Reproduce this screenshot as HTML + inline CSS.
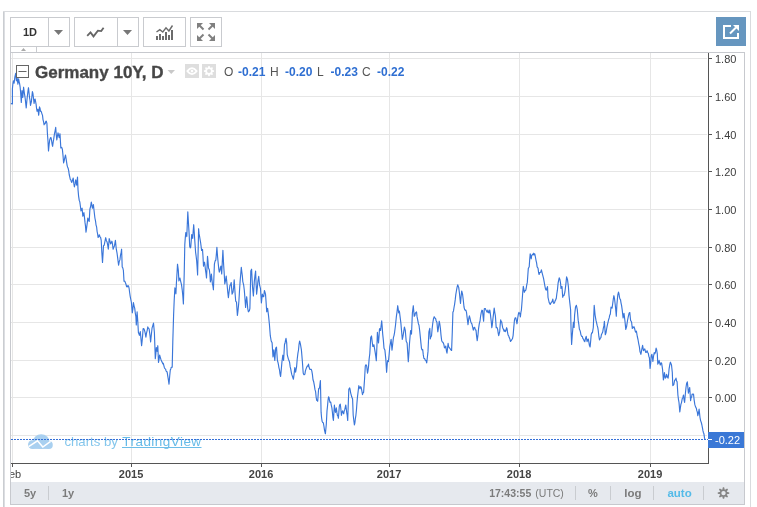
<!DOCTYPE html>
<html><head><meta charset="utf-8">
<style>
html,body{margin:0;padding:0;background:#fff;}
body{width:757px;height:507px;overflow:hidden;position:relative;font-family:'Liberation Sans', Arial, sans-serif;}
svg{position:absolute;left:0;top:0;}
text{font-family:'Liberation Sans', Arial, sans-serif;}
</style></head><body>
<svg width="757" height="507" viewBox="0 0 757 507">
<defs><clipPath id="paneclip"><rect x="11" y="53" width="733" height="429"/></clipPath></defs>
<!-- outer frame -->
<rect x="3" y="11" width="1" height="496" fill="#cacdd1"/>
<rect x="4" y="11" width="1" height="496" fill="#dcdee2"/>
<rect x="3" y="11" width="748" height="1" fill="#d9dbde"/>
<rect x="750" y="11" width="1" height="496" fill="#d9dbde"/>

<!-- toolbar buttons -->
<g fill="#fff" stroke="#c9cbcf" stroke-width="1" shape-rendering="crispEdges">
<rect x="10.5" y="17.5" width="59" height="29"/>
<line x1="48.5" y1="17.5" x2="48.5" y2="46.5"/>
<rect x="74.5" y="17.5" width="64" height="29"/>
<line x1="117.5" y1="17.5" x2="117.5" y2="46.5"/>
<rect x="143.5" y="17.5" width="42" height="29"/>
<rect x="190.5" y="17.5" width="31" height="29"/>
<rect x="10.5" y="46.5" width="26" height="6"/>
</g>
<text x="23" y="36" font-size="11" font-weight="bold" fill="#333">1D</text>
<path d="M54,30 L63,30 L58.5,35 Z" fill="#777"/>
<path d="M123,30 L132,30 L127.5,35 Z" fill="#777"/>
<path d="M21,51 L26,51 L23.5,48 Z" fill="#aaa"/>
<!-- line-style icon -->
<polyline points="87.2,35.9 90.5,32.4 93.5,36.4 97.9,30.7 101.2,31.1 103.6,27.7" fill="none" stroke="#666" stroke-width="1.8" stroke-linejoin="miter"/>
<!-- indicators icon -->
<g fill="#6b6b6b">
<rect x="156" y="36" width="2" height="4"/>
<rect x="159" y="34" width="2" height="6"/>
<rect x="162" y="36" width="2" height="4"/>
<rect x="165" y="32" width="2" height="8"/>
<rect x="168" y="35" width="2" height="5"/>
<rect x="171" y="30" width="2" height="10"/>
</g>
<polyline points="156.5,32 159.8,29.6 162.8,32 166,27.8 168.9,31 172.5,25.5" fill="none" stroke="#6b6b6b" stroke-width="1.4"/>
<!-- fullscreen icon -->
<g fill="#808080" stroke="#808080" stroke-width="2">
<path d="M197,23 L203,23 L197,29 Z" stroke="none"/>
<line x1="199" y1="25" x2="203.5" y2="29.5"/>
<path d="M215,23 L209,23 L215,29 Z" stroke="none"/>
<line x1="213" y1="25" x2="208.5" y2="29.5"/>
<path d="M197,41 L203,41 L197,35 Z" stroke="none"/>
<line x1="199" y1="39" x2="203.5" y2="34.5"/>
<path d="M215,41 L209,41 L215,35 Z" stroke="none"/>
<line x1="213" y1="39" x2="208.5" y2="34.5"/>
</g>
<!-- popout blue button -->
<rect x="716" y="17" width="30" height="29" fill="#6696bf"/>
<path d="M731,26 L724,26 L724,38 L738,38 L738,33" fill="none" stroke="#fff" stroke-width="2"/>
<line x1="730" y1="33.5" x2="736" y2="27.5" stroke="#fff" stroke-width="2"/>
<path d="M733,25 L739,25 L739,31 Z" fill="#fff"/>

<!-- chart pane -->
<g shape-rendering="crispEdges">
<line x1="10.5" y1="52.5" x2="744.5" y2="52.5" stroke="#c7c9ce"/>
<line x1="10.5" y1="46.5" x2="10.5" y2="504.5" stroke="#c7c9ce"/>
<line x1="744.5" y1="52.5" x2="744.5" y2="504.5" stroke="#c7c9ce"/>
<g stroke="#e6e6e6"><line x1="11" x2="707" y1="435.5" y2="435.5"/><line x1="11" x2="707" y1="397.5" y2="397.5"/><line x1="11" x2="707" y1="360.5" y2="360.5"/><line x1="11" x2="707" y1="322.5" y2="322.5"/><line x1="11" x2="707" y1="284.5" y2="284.5"/><line x1="11" x2="707" y1="247.5" y2="247.5"/><line x1="11" x2="707" y1="209.5" y2="209.5"/><line x1="11" x2="707" y1="171.5" y2="171.5"/><line x1="11" x2="707" y1="134.5" y2="134.5"/><line x1="11" x2="707" y1="96.5" y2="96.5"/><line x1="11" x2="707" y1="58.5" y2="58.5"/><line x1="12.5" x2="12.5" y1="53" y2="463"/><line x1="131.5" x2="131.5" y1="53" y2="463"/><line x1="261.5" x2="261.5" y1="53" y2="463"/><line x1="389.5" x2="389.5" y1="53" y2="463"/><line x1="519.5" x2="519.5" y1="53" y2="463"/><line x1="650.5" x2="650.5" y1="53" y2="463"/></g>
</g>
<!-- bottom toolbar -->
<rect x="11" y="482" width="733" height="22" fill="#e6e9ee"/>
<line x1="10.5" y1="504.5" x2="744.5" y2="504.5" stroke="#c7c9ce" shape-rendering="crispEdges"/>

<!-- axes -->
<g stroke="#555" shape-rendering="crispEdges">
<line x1="11" y1="463.5" x2="709" y2="463.5"/>
<line x1="708.5" y1="53" x2="708.5" y2="464"/>
<line x1="12.5" x2="12.5" y1="463" y2="467"/><line x1="131.5" x2="131.5" y1="463" y2="467"/><line x1="261.5" x2="261.5" y1="463" y2="467"/><line x1="389.5" x2="389.5" y1="463" y2="467"/><line x1="519.5" x2="519.5" y1="463" y2="467"/><line x1="650.5" x2="650.5" y1="463" y2="467"/><line x1="708" x2="712" y1="397.5" y2="397.5"/><line x1="708" x2="712" y1="360.5" y2="360.5"/><line x1="708" x2="712" y1="322.5" y2="322.5"/><line x1="708" x2="712" y1="284.5" y2="284.5"/><line x1="708" x2="712" y1="247.5" y2="247.5"/><line x1="708" x2="712" y1="209.5" y2="209.5"/><line x1="708" x2="712" y1="171.5" y2="171.5"/><line x1="708" x2="712" y1="134.5" y2="134.5"/><line x1="708" x2="712" y1="96.5" y2="96.5"/><line x1="708" x2="712" y1="58.5" y2="58.5"/>
</g>
<g font-size="11" font-weight="bold" fill="#444"><text x="131.1" y="477.7" text-anchor="middle">2015</text><text x="261.1" y="477.7" text-anchor="middle">2016</text><text x="389.1" y="477.7" text-anchor="middle">2017</text><text x="519.1" y="477.7" text-anchor="middle">2018</text><text x="650.1" y="477.7" text-anchor="middle">2019</text>
</g>
<g clip-path="url(#paneclip)"><text x="21.2" y="477.7" font-size="11" fill="#444" text-anchor="end">Feb</text></g>
<g font-size="11" fill="#3c3c3c"><text x="715" y="402.0">0.00</text><text x="715" y="365.0">0.20</text><text x="715" y="327.0">0.40</text><text x="715" y="289.0">0.60</text><text x="715" y="252.0">0.80</text><text x="715" y="214.0">1.00</text><text x="715" y="176.0">1.20</text><text x="715" y="139.0">1.40</text><text x="715" y="101.0">1.60</text><text x="715" y="63.0">1.80</text></g>

<!-- watermark -->
<g>
<g fill="#a9d0f0">
<ellipse cx="41.2" cy="441.6" rx="8.3" ry="7.3"/>
<circle cx="32.3" cy="444.6" r="4.3"/>
<circle cx="48.9" cy="445.0" r="3.9"/>
<rect x="32.3" y="444" width="16.6" height="4.9"/>
</g>
<polyline points="28.6,446.6 37.5,440.8 42.8,447 50.6,441.4" fill="none" stroke="#fff" stroke-width="1.5"/>
<text x="64.4" y="446" font-size="13.2" fill="#84c6ec">charts by</text>
<text x="122.3" y="446" font-size="13.5" fill="#66bbe8" textLength="78.8" lengthAdjust="spacing">TradingView</text>
<rect x="122" y="447" width="79.5" height="1" fill="#6cbde8"/>
</g>

<!-- price line -->
<path d="M11.0,104.0 L11.7,103.5 L12.4,104.0 L12.4,88.7 L12.9,83.8 L13.4,80.8 L14.1,83.2 L14.9,76.8 L15.7,73.4 L16.4,80.8 L17.1,77.8 L17.9,84.2 L18.6,78.8 L19.1,81.6 L19.6,83.7 L20.1,86.8 L20.6,92.1 L21.3,102.5 L22.0,90.6 L22.8,97.5 L23.6,87.2 L24.3,92.6 L25.2,98.5 L25.7,103.3 L26.2,107.9 L26.7,102.4 L27.2,97.5 L27.9,91.5 L28.5,87.7 L29.0,92.6 L29.5,97.5 L30.0,100.2 L30.5,105.4 L31.4,101.5 L31.9,96.4 L32.4,91.6 L32.9,93.4 L33.4,97.5 L34.1,103.4 L34.6,100.1 L35.1,99.0 L35.6,101.5 L36.1,104.4 L36.6,108.7 L37.1,111.3 L38.0,109.3 L38.7,115.3 L39.5,106.9 L40.0,108.1 L40.5,111.3 L41.0,111.1 L41.5,112.3 L42.0,114.1 L42.5,115.3 L43.0,119.6 L43.6,121.8 L44.1,124.8 L44.7,123.4 L45.2,123.7 L45.8,121.3 L46.3,121.2 L46.9,123.4 L47.4,133.5 L48.0,141.3 L48.5,151.0 L49.1,144.6 L49.7,140.0 L50.4,137.8 L51.0,137.6 L51.5,140.0 L52.1,144.2 L52.6,146.3 L53.2,141.9 L53.7,139.2 L54.5,133.7 L55.1,130.8 L55.7,127.4 L56.2,134.1 L56.8,140.0 L57.4,136.1 L58.0,132.9 L58.6,135.4 L59.2,137.6 L60.0,133.7 L60.8,147.9 L61.3,147.3 L61.9,147.8 L62.4,149.5 L63.0,155.4 L63.6,162.9 L64.2,160.7 L64.9,157.4 L65.5,155.0 L66.0,158.0 L66.6,162.1 L67.1,165.3 L67.6,167.0 L68.2,168.4 L68.7,170.8 L69.2,174.5 L69.8,177.1 L70.3,179.5 L70.8,179.8 L71.3,181.6 L71.8,182.4 L72.5,180.3 L73.2,178.0 L73.8,183.4 L74.4,186.9 L75.1,183.9 L75.7,179.8 L76.2,181.9 L76.7,185.1 L77.5,177.1 L78.0,189.5 L78.6,196.1 L79.2,200.2 L79.8,201.9 L80.3,205.5 L81.0,210.9 L81.5,209.3 L82.1,208.2 L82.8,216.2 L83.3,215.1 L83.9,212.6 L84.4,216.6 L85.0,222.4 L85.5,226.1 L86.0,232.2 L86.6,227.9 L87.2,223.4 L87.8,218.0 L88.5,219.9 L89.2,221.5 L89.9,209.1 L90.6,206.5 L91.3,202.0 L91.8,204.6 L92.4,208.2 L92.9,206.9 L93.4,204.6 L93.9,209.3 L94.4,213.7 L94.9,218.0 L95.5,220.8 L96.0,224.8 L96.6,226.8 L97.1,231.5 L97.6,233.9 L98.1,237.5 L98.7,236.6 L99.3,234.8 L100.0,236.8 L100.6,237.4 L101.2,240.3 L101.8,251.9 L102.5,262.5 L103.0,254.5 L103.5,245.7 L104.2,245.2 L104.8,242.1 L105.7,237.7 L106.4,240.7 L107.1,242.1 L107.7,245.1 L108.3,249.2 L109.2,238.6 L109.9,241.0 L110.6,243.9 L111.2,243.0 L111.9,241.2 L112.5,244.0 L113.1,249.2 L113.8,247.4 L114.5,245.7 L115.4,240.3 L116.3,249.2 L117.0,252.8 L117.7,258.1 L118.6,265.2 L119.2,261.6 L119.9,259.9 L120.5,255.2 L121.0,253.5 L121.6,249.2 L122.2,267.0 L122.8,267.8 L123.4,270.5 L124.0,281.2 L124.6,281.0 L125.2,282.1 L125.9,284.0 L126.6,286.5 L127.2,287.0 L127.9,285.6 L128.5,285.9 L129.1,288.3 L129.6,292.2 L130.2,296.3 L130.8,299.5 L131.4,302.5 L132.3,312.8 L132.9,308.6 L133.4,302.5 L134.1,306.1 L134.7,308.1 L135.3,313.3 L135.9,316.7 L136.3,325.0 L137.1,311.9 L137.8,321.6 L138.4,332.5 L138.9,333.7 L139.4,335.3 L140.3,331.6 L140.9,338.3 L141.6,345.7 L142.1,341.1 L142.6,335.6 L143.1,328.8 L143.6,328.5 L144.1,329.2 L144.6,330.6 L145.2,333.2 L145.9,337.2 L146.5,333.1 L147.2,330.3 L147.8,326.9 L148.4,328.1 L149.1,328.8 L149.6,332.5 L150.1,336.2 L150.6,341.9 L151.1,337.0 L151.6,332.2 L152.1,327.8 L152.8,325.6 L153.5,323.1 L154.4,332.5 L155.3,358.8 L155.8,354.3 L156.3,347.5 L157.2,351.3 L157.8,345.7 L158.5,362.5 L159.1,359.2 L159.6,355.0 L160.3,357.4 L161.0,359.7 L161.7,361.4 L162.3,362.5 L162.8,363.9 L163.3,363.3 L163.8,365.4 L164.4,367.7 L165.0,368.6 L165.6,369.1 L166.1,371.0 L166.6,371.7 L167.1,371.9 L167.7,375.7 L168.4,379.8 L169.0,384.1 L169.7,376.0 L170.3,370.0 L170.8,368.9 L171.3,367.2 L172.2,367.2 L172.8,341.9 L173.6,315.0 L174.2,300.3 L174.9,287.8 L175.4,289.7 L175.9,293.8 L176.4,283.2 L177.0,273.2 L177.5,264.2 L178.3,270.1 L178.9,280.9 L179.4,279.0 L179.9,278.0 L180.8,281.9 L181.5,284.7 L182.2,289.8 L182.8,295.6 L183.4,304.0 L184.2,274.0 L184.8,244.4 L185.3,237.6 L185.8,232.6 L186.3,233.6 L186.8,236.6 L187.3,223.9 L187.8,211.9 L188.7,226.7 L189.2,235.3 L189.7,246.4 L190.2,247.9 L190.7,247.4 L191.2,241.3 L191.7,234.6 L192.2,235.6 L192.7,238.5 L193.2,231.0 L193.7,224.7 L194.2,231.7 L194.7,239.5 L195.6,252.3 L196.1,255.9 L196.6,260.2 L197.1,266.6 L197.6,275.0 L198.1,252.8 L198.6,228.7 L199.1,233.9 L199.6,236.6 L200.1,239.5 L200.6,242.5 L201.1,246.4 L201.6,250.4 L202.5,249.4 L203.0,256.7 L203.5,266.1 L204.0,263.1 L204.5,262.2 L205.0,265.7 L205.5,270.1 L206.0,273.4 L206.5,278.0 L207.0,268.0 L207.5,256.3 L208.0,261.3 L208.5,268.1 L209.4,270.1 L209.9,274.8 L210.4,281.9 L210.9,279.1 L211.4,274.0 L211.9,279.0 L212.4,283.9 L212.9,285.9 L213.4,289.8 L213.9,277.1 L214.4,264.2 L215.1,261.0 L215.8,260.2 L216.4,253.9 L216.9,247.4 L217.6,257.0 L218.3,264.2 L218.8,269.1 L219.3,272.1 L219.8,270.6 L220.4,267.5 L220.9,266.1 L221.7,274.0 L222.3,261.9 L222.9,250.4 L223.6,264.2 L224.2,273.2 L224.8,283.9 L225.5,280.7 L226.2,276.0 L226.7,281.0 L227.2,285.9 L227.8,292.5 L228.4,297.7 L228.9,293.1 L229.5,288.6 L230.0,285.2 L230.6,284.7 L231.2,282.5 L232.1,294.1 L233.0,292.3 L233.6,287.4 L234.2,279.9 L234.7,287.9 L235.2,294.9 L235.7,301.2 L236.5,302.1 L237.4,315.4 L237.9,311.5 L238.4,306.6 L238.9,301.2 L239.5,290.7 L240.1,281.6 L240.7,274.5 L241.3,267.4 L241.8,271.8 L242.3,275.6 L242.8,281.6 L243.7,285.2 L244.3,290.2 L244.9,297.6 L245.6,307.4 L246.1,301.5 L246.7,296.7 L247.2,301.9 L247.7,308.3 L248.4,311.8 L248.9,311.1 L249.4,310.7 L249.9,308.3 L250.8,271.0 L251.6,269.2 L252.5,287.0 L253.4,295.9 L254.3,281.6 L254.9,276.2 L255.6,271.0 L256.1,283.7 L256.6,294.1 L257.2,289.1 L257.9,281.6 L258.7,276.3 L259.6,285.2 L260.5,288.7 L261.4,303.0 L262.3,294.1 L263.0,296.6 L263.7,296.7 L264.4,290.5 L264.9,291.9 L265.5,294.1 L266.1,302.2 L266.7,311.8 L267.6,308.3 L268.5,315.4 L269.4,324.3 L270.3,335.7 L271.2,341.0 L272.1,342.8 L273.0,357.0 L273.9,349.9 L274.8,360.5 L275.7,348.1 L276.5,347.2 L277.4,360.5 L277.9,362.2 L278.4,364.4 L278.9,367.6 L279.5,369.8 L280.0,373.9 L280.6,376.5 L281.2,370.4 L281.9,362.3 L282.8,355.2 L283.6,360.5 L284.5,344.5 L285.0,343.3 L285.5,340.3 L286.0,338.3 L286.7,342.8 L287.2,354.3 L287.8,356.8 L288.4,359.2 L289.0,360.5 L289.6,362.4 L290.2,366.9 L290.8,369.4 L291.4,372.8 L291.9,374.9 L292.5,376.5 L293.4,379.2 L294.1,374.1 L294.8,367.6 L295.6,372.1 L296.1,369.3 L296.6,366.7 L297.2,359.2 L297.9,353.4 L298.5,350.0 L299.0,344.7 L299.6,341.0 L300.5,344.5 L301.4,349.9 L302.3,360.5 L303.2,373.0 L303.8,374.6 L304.4,374.7 L304.9,374.2 L305.4,370.9 L305.9,369.4 L306.6,367.4 L307.3,365.9 L307.9,366.2 L308.5,364.1 L309.1,367.3 L309.8,369.4 L310.7,369.4 L311.2,369.3 L311.8,370.9 L312.4,374.4 L313.0,379.8 L313.7,381.8 L314.4,385.7 L315.0,389.7 L315.6,391.6 L316.1,396.8 L316.7,400.5 L317.2,400.0 L317.7,401.3 L318.6,388.7 L319.1,388.8 L319.6,387.2 L320.4,380.5 L321.1,412.4 L321.6,418.0 L322.1,421.2 L322.7,422.4 L323.3,422.7 L323.9,426.0 L324.5,430.1 L325.4,433.8 L326.3,424.2 L327.0,410.9 L327.5,406.3 L328.0,400.5 L328.5,396.8 L329.0,397.4 L329.5,400.5 L330.1,402.5 L330.7,402.0 L331.3,405.3 L331.9,407.9 L332.4,412.2 L332.9,417.4 L333.4,420.5 L333.9,412.6 L334.4,405.0 L334.9,409.7 L335.5,412.4 L336.3,407.9 L336.9,412.4 L337.4,415.3 L337.9,416.0 L338.4,418.3 L339.3,406.4 L339.8,404.7 L340.3,404.2 L340.9,409.2 L341.4,415.3 L342.0,412.4 L342.6,410.9 L343.1,412.6 L343.7,413.8 L344.2,411.0 L344.8,409.4 L345.3,407.0 L345.8,405.0 L346.7,412.4 L347.2,415.5 L347.7,420.5 L348.2,406.0 L348.8,389.4 L349.7,387.9 L350.2,390.1 L350.7,393.1 L351.2,394.8 L351.7,396.8 L352.6,399.0 L353.2,415.3 L353.8,420.3 L354.4,424.9 L354.9,422.8 L355.4,418.3 L355.9,415.3 L356.4,410.5 L356.9,403.5 L357.4,397.6 L358.1,391.7 L358.8,385.7 L359.4,387.3 L360.0,388.7 L360.6,386.7 L361.1,387.2 L361.8,390.7 L362.5,394.6 L363.1,392.7 L363.6,392.4 L364.5,380.0 L365.3,366.0 L366.0,364.7 L366.7,366.0 L367.5,373.2 L368.0,370.8 L368.5,366.9 L369.1,359.4 L369.8,353.6 L370.7,337.6 L371.5,335.9 L372.1,341.1 L372.8,346.5 L373.4,346.2 L373.9,344.7 L374.5,348.4 L375.1,351.8 L375.7,355.8 L376.3,360.7 L376.9,346.5 L377.4,332.3 L377.9,337.8 L378.5,343.0 L379.0,336.6 L379.5,328.7 L380.1,328.6 L380.6,330.5 L381.1,325.8 L381.7,320.8 L382.2,326.8 L382.7,334.1 L383.4,340.6 L384.0,348.3 L384.9,350.1 L385.8,358.9 L386.6,372.3 L387.5,360.7 L388.4,361.6 L389.1,354.8 L389.8,346.5 L390.5,343.0 L391.1,339.4 L392.0,350.1 L392.7,344.0 L393.4,337.6 L394.0,335.6 L394.6,332.3 L395.5,325.2 L396.4,316.3 L397.0,312.1 L397.7,305.7 L398.2,309.1 L398.7,312.8 L399.4,311.0 L399.9,315.4 L400.4,319.3 L400.9,323.4 L401.6,331.4 L402.3,339.4 L402.9,336.8 L403.5,333.2 L404.4,327.0 L405.3,330.5 L406.2,341.2 L407.1,343.0 L407.7,352.2 L408.3,361.6 L408.9,353.2 L409.4,344.7 L410.0,337.5 L410.6,330.5 L411.5,334.1 L412.4,312.8 L413.3,305.7 L414.2,316.3 L414.8,315.7 L415.4,312.8 L415.9,312.9 L416.5,311.9 L417.1,316.9 L417.7,319.9 L418.4,323.7 L419.0,325.2 L419.7,330.8 L420.4,337.6 L420.9,342.9 L421.4,347.8 L422.0,349.9 L422.7,349.6 L423.3,354.9 L423.9,358.5 L424.6,358.5 L425.3,360.3 L426.0,360.6 L426.7,362.9 L427.4,357.0 L428.0,351.4 L428.9,331.8 L429.8,328.3 L430.3,338.9 L430.9,336.5 L431.5,336.3 L432.1,329.0 L432.8,323.0 L433.5,318.7 L434.2,316.7 L434.9,318.0 L435.6,318.5 L436.2,321.0 L436.9,322.1 L437.8,331.8 L438.5,327.5 L439.2,321.2 L439.8,323.9 L440.4,328.3 L441.0,335.1 L441.7,340.7 L442.4,342.0 L443.1,342.5 L443.8,344.2 L444.5,347.8 L445.1,347.9 L445.8,346.0 L446.4,350.8 L447.0,353.2 L447.6,347.6 L448.1,343.4 L448.7,346.8 L449.3,347.8 L450.0,348.4 L450.6,349.6 L451.1,350.0 L451.6,350.5 L452.3,331.8 L452.9,312.3 L453.5,310.9 L454.1,307.0 L454.6,304.3 L455.2,299.9 L455.8,294.6 L456.4,291.0 L457.0,287.7 L457.7,284.8 L458.2,286.1 L458.7,287.4 L459.4,292.8 L459.9,297.7 L460.5,303.4 L461.1,296.4 L461.7,291.0 L462.6,294.5 L463.3,300.3 L464.0,307.0 L464.6,309.3 L465.3,310.5 L465.9,310.2 L466.5,312.3 L467.0,316.6 L467.5,320.4 L468.0,324.7 L468.7,319.0 L469.4,315.9 L470.0,318.1 L470.6,321.2 L471.2,322.8 L471.9,323.8 L472.6,327.0 L473.3,330.1 L474.0,327.6 L474.7,327.4 L475.4,330.0 L476.0,330.1 L476.6,336.1 L477.2,340.7 L477.9,335.7 L478.6,328.3 L479.3,323.7 L480.0,321.2 L480.6,316.1 L481.3,312.3 L481.9,310.2 L482.5,310.5 L483.1,316.6 L483.6,321.2 L484.3,308.7 L484.8,308.5 L485.4,308.6 L485.9,310.0 L486.4,310.8 L486.9,312.0 L487.4,312.1 L487.9,310.0 L488.4,312.3 L488.9,313.0 L489.8,310.0 L490.3,313.3 L490.8,317.9 L491.3,321.9 L491.8,327.7 L492.3,324.8 L492.8,319.8 L493.5,314.1 L494.2,308.0 L494.8,312.5 L495.4,315.9 L496.2,327.7 L496.7,327.3 L497.2,327.9 L497.7,329.7 L498.2,333.1 L498.7,335.6 L499.2,333.5 L499.7,331.7 L500.2,324.6 L500.7,319.8 L501.2,321.9 L501.7,321.8 L502.2,325.1 L502.7,327.7 L503.6,329.7 L504.1,331.2 L504.7,330.0 L505.2,331.7 L505.9,330.6 L506.6,327.7 L507.1,329.0 L507.6,332.6 L508.1,335.2 L508.7,335.8 L509.2,337.6 L509.9,339.1 L510.5,341.5 L511.2,340.6 L511.9,339.5 L512.5,338.7 L513.1,335.6 L513.8,327.1 L514.5,319.8 L515.1,317.9 L515.8,317.9 L516.4,320.9 L517.0,323.8 L517.7,318.2 L518.4,313.9 L518.9,312.4 L519.4,313.0 L519.9,314.1 L520.4,316.9 L520.9,312.3 L521.4,310.0 L522.3,298.2 L522.8,291.5 L523.3,286.4 L523.8,288.9 L524.3,292.3 L525.0,290.8 L525.7,290.3 L526.2,288.3 L526.8,284.5 L527.3,282.4 L527.8,275.5 L528.3,268.6 L529.2,266.7 L529.7,259.5 L530.2,253.9 L530.7,256.0 L531.2,258.8 L531.7,255.5 L532.2,254.8 L532.7,254.2 L533.2,254.8 L533.7,253.2 L534.3,254.8 L534.8,253.9 L535.5,257.5 L536.1,260.8 L536.6,262.9 L537.1,266.7 L537.6,267.6 L538.1,268.6 L538.6,272.7 L539.1,274.5 L539.6,272.5 L540.1,272.6 L540.8,272.0 L541.4,269.8 L542.0,272.3 L542.7,275.1 L543.6,278.7 L544.3,282.6 L545.0,286.6 L545.6,289.3 L546.2,290.2 L546.9,288.1 L547.5,286.6 L548.0,297.3 L548.6,300.0 L549.2,302.6 L549.7,303.4 L550.2,304.5 L550.7,303.5 L551.4,302.2 L552.1,301.7 L552.8,299.1 L553.3,302.2 L553.9,303.5 L554.5,302.7 L555.1,300.9 L555.7,299.9 L556.3,298.2 L556.8,294.0 L557.4,290.2 L558.1,283.1 L558.7,280.1 L559.2,277.8 L559.9,279.5 L560.5,282.8 L561.0,288.4 L561.5,286.5 L562.0,286.6 L562.7,297.3 L563.4,295.3 L564.0,295.5 L564.9,292.0 L565.8,284.9 L566.6,276.9 L567.5,279.5 L568.4,286.6 L569.0,295.5 L569.8,302.6 L570.6,309.7 L571.1,331.0 L571.6,344.4 L572.3,334.6 L572.8,329.0 L573.4,322.2 L574.1,327.5 L574.6,315.1 L575.5,307.1 L576.4,305.3 L577.3,309.7 L578.2,320.4 L578.8,324.2 L579.4,329.3 L579.9,330.2 L580.4,331.8 L580.9,334.6 L581.6,336.4 L582.3,336.4 L582.9,338.7 L583.5,339.0 L584.1,340.8 L584.8,341.7 L585.5,338.5 L586.2,336.4 L587.1,341.7 L587.7,339.7 L588.3,339.0 L588.8,341.6 L589.4,345.3 L590.1,347.0 L590.7,340.7 L591.2,334.6 L591.8,332.8 L592.4,332.8 L593.3,327.5 L594.2,305.3 L595.1,315.1 L596.0,320.4 L596.6,322.9 L597.2,325.7 L597.8,327.7 L598.3,331.0 L598.9,336.7 L599.5,339.9 L600.4,338.1 L600.9,337.6 L601.4,334.7 L602.0,333.5 L602.7,332.1 L603.3,328.3 L603.9,325.9 L604.4,321.4 L605.3,334.7 L606.0,332.8 L606.7,328.5 L607.4,324.9 L608.0,322.3 L608.6,319.7 L609.2,317.9 L609.8,314.8 L610.3,314.3 L611.0,307.2 L611.5,307.3 L612.1,308.1 L612.8,302.8 L613.3,299.2 L613.9,295.7 L614.6,299.2 L615.1,303.7 L615.6,308.1 L616.3,316.1 L616.9,304.5 L617.8,294.8 L618.5,292.1 L619.0,294.0 L619.5,297.4 L620.0,299.2 L620.5,299.7 L621.0,302.8 L621.6,305.7 L622.2,309.9 L623.1,317.9 L624.0,313.4 L624.9,320.5 L625.8,329.4 L626.6,326.7 L627.5,320.5 L628.4,316.1 L629.1,313.2 L629.8,312.5 L630.6,320.5 L631.1,321.1 L631.6,322.3 L632.3,328.5 L632.8,326.9 L633.4,327.6 L634.0,326.8 L634.6,328.5 L635.5,332.1 L636.4,331.2 L637.3,336.5 L638.0,339.5 L638.7,343.6 L639.4,346.9 L640.0,351.6 L640.9,354.3 L641.7,349.8 L642.6,345.4 L643.5,350.7 L644.1,350.0 L644.8,348.9 L645.3,350.8 L645.8,352.5 L646.5,352.3 L647.1,350.7 L647.7,352.5 L648.3,353.4 L648.8,356.2 L649.4,357.8 L650.1,368.5 L650.7,363.2 L651.2,356.0 L651.9,354.3 L652.4,357.6 L652.9,361.4 L653.5,356.5 L654.2,352.5 L654.8,353.8 L655.4,352.5 L656.1,348.1 L656.7,350.0 L657.3,353.8 L657.8,364.1 L658.5,362.8 L659.1,360.3 L659.7,363.0 L660.3,365.0 L661.0,362.9 L661.6,363.1 L662.5,368.8 L663.4,380.0 L663.9,377.1 L664.4,372.5 L665.3,378.1 L666.0,377.3 L666.6,374.4 L667.1,376.0 L667.6,377.5 L668.1,378.1 L668.6,374.3 L669.1,368.8 L669.8,364.6 L670.4,362.2 L671.0,363.7 L671.5,365.0 L672.3,372.5 L672.8,385.6 L673.3,385.2 L673.8,384.7 L674.7,380.0 L675.4,379.9 L676.0,378.1 L676.5,380.8 L677.1,381.9 L677.9,395.0 L678.5,399.6 L679.0,402.5 L679.8,411.9 L680.3,408.4 L680.9,404.4 L681.5,402.6 L682.2,398.8 L682.9,397.4 L683.5,395.0 L684.0,399.3 L684.6,402.5 L685.3,394.3 L686.0,387.5 L686.6,383.5 L687.3,381.9 L687.8,386.6 L688.4,393.2 L689.0,390.0 L689.7,387.5 L690.6,400.7 L691.1,397.5 L691.6,397.2 L692.1,394.1 L692.8,394.3 L693.5,394.1 L694.1,399.6 L694.8,404.4 L695.3,406.0 L695.8,407.4 L696.3,408.2 L696.8,410.7 L697.3,411.9 L697.8,415.7 L698.5,413.2 L699.1,409.1 L700.0,417.5 L700.6,420.6 L701.3,422.5 L701.9,425.0 L702.4,427.6 L702.9,430.4 L703.4,432.5 L703.9,433.7 L704.5,437.8 L705.0,439.6" fill="none" stroke="#3a76d9" stroke-width="1.15" stroke-linejoin="round"/>
<!-- last price dotted line -->
<line x1="11" y1="439.5" x2="708" y2="439.5" stroke="#3570d8" stroke-width="1" stroke-dasharray="2,1"/>
<rect x="708" y="432" width="36" height="16" fill="#3a78d6"/>
<line x1="708" y1="439.5" x2="712" y2="439.5" stroke="#fff"/>
<text x="715" y="444" font-size="11" fill="#fff">-0.22</text>

<!-- legend -->
<rect x="16.5" y="65.5" width="12" height="12" fill="#fff" stroke="#666"/>
<line x1="18.5" y1="71.5" x2="26.5" y2="71.5" stroke="#666"/>
<text x="35" y="78" font-size="17" font-weight="bold" fill="#474747" stroke="#474747" stroke-width="0.35">Germany 10Y, D</text>
<path d="M167.5,70 L175,70 L171.25,74 Z" fill="#c8c8c8"/>
<rect x="185" y="64" width="14" height="14" fill="#dedede"/>
<path d="M187.3,71.1 Q192,65.2 196.7,71.1 Q192,77 187.3,71.1 Z" fill="none" stroke="#fff" stroke-width="1.7" stroke-linejoin="round"/>
<circle cx="192" cy="71.1" r="1.3" fill="#fff"/>
<rect x="202" y="64" width="14" height="14" fill="#dedede"/>
<path d="M207.73,67.73 L208.45,66.03 L209.55,66.03 L210.27,67.73 L210.49,67.82 L212.20,67.13 L212.97,67.90 L212.28,69.61 L212.37,69.83 L214.07,70.55 L214.07,71.65 L212.37,72.37 L212.28,72.59 L212.97,74.30 L212.20,75.07 L210.49,74.38 L210.27,74.47 L209.55,76.17 L208.45,76.17 L207.73,74.47 L207.51,74.38 L205.80,75.07 L205.03,74.30 L205.72,72.59 L205.63,72.37 L203.93,71.65 L203.93,70.55 L205.63,69.83 L205.72,69.61 L205.03,67.90 L205.80,67.13 L207.51,67.82 Z" fill="#fff"/><circle cx="209" cy="71.1" r="2.0" fill="#dedede"/>
<g font-size="12">
<text x="224" y="76" fill="#555">O</text><text x="238" y="76" fill="#2f6fd2" font-weight="bold">-0.21</text>
<text x="270" y="76" fill="#555">H</text><text x="285" y="76" fill="#2f6fd2" font-weight="bold">-0.20</text>
<text x="317" y="76" fill="#555">L</text><text x="330.5" y="76" fill="#2f6fd2" font-weight="bold">-0.23</text>
<text x="362" y="76" fill="#555">C</text><text x="377" y="76" fill="#2f6fd2" font-weight="bold">-0.22</text>
</g>

<!-- bottom toolbar items -->
<g font-size="11" fill="#7b7b7b">
<text x="24" y="497" font-weight="bold">5y</text>
<text x="62" y="497" font-weight="bold">1y</text>
<text x="489.2" y="497" font-weight="bold" font-size="10.5">17:43:55</text>
<text x="535.3" y="497" font-size="10.5">(UTC)</text>
<text x="588" y="497" font-weight="bold">%</text>
<text x="624.2" y="497" font-weight="bold" font-size="11.5">log</text>
<text x="667.4" y="497" font-weight="bold" font-size="11.5" fill="#55bbe8">auto</text>
</g>
<g stroke="#c9ccd0" shape-rendering="crispEdges">
<line x1="48.5" y1="486" x2="48.5" y2="500"/>
<line x1="575.5" y1="486" x2="575.5" y2="500"/>
<line x1="610.5" y1="486" x2="610.5" y2="500"/>
<line x1="653.5" y1="486" x2="653.5" y2="500"/>
<line x1="703.5" y1="486" x2="703.5" y2="500"/>
</g>
<!-- gear -->
<path d="M722.23,489.73 L722.87,487.33 L724.13,487.33 L724.77,489.73 L724.99,489.82 L727.14,488.58 L728.02,489.46 L726.78,491.61 L726.87,491.83 L729.27,492.47 L729.27,493.73 L726.87,494.37 L726.78,494.59 L728.02,496.74 L727.14,497.62 L724.99,496.38 L724.77,496.47 L724.13,498.87 L722.87,498.87 L722.23,496.47 L722.01,496.38 L719.86,497.62 L718.98,496.74 L720.22,494.59 L720.13,494.37 L717.73,493.73 L717.73,492.47 L720.13,491.83 L720.22,491.61 L718.98,489.46 L719.86,488.58 L722.01,489.82 Z" fill="#858585"/><circle cx="723.5" cy="493.1" r="2.2" fill="#e6e9ee"/>
</svg>
</body></html>
